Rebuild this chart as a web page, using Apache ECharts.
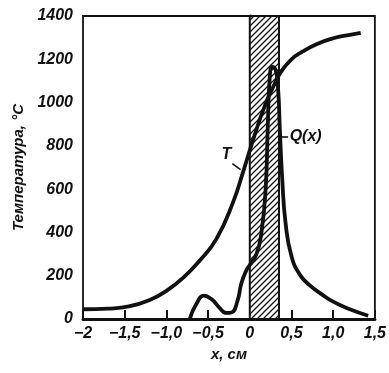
<!DOCTYPE html>
<html>
<head>
<meta charset="utf-8">
<script src="https://cdn.jsdelivr.net/npm/echarts@6/dist/echarts.min.js"></script>
<style>html,body{margin:0;padding:0;background:#fff;}#c{width:389px;height:373px;}</style>
</head>
<body>
<div id="c"></div>
<script>
// ---- data ----
var xTicks = [-2, -1.5, -1.0, -0.5, 0, 0.5, 1.0, 1.5];
var xTickLabels = ['\u22122', '\u22121,5', '\u22121,0', '\u22120,5', '0', '0,5', '1,0', '1,5'];
var yTicks = [0, 200, 400, 600, 800, 1000, 1200, 1400];
var yTickLabels = ['0', '200', '400', '600', '800', '1000', '1200', '1400'];

// Temperature curve T(x)
var tX = [-2, -1.7, -1.45, -1.2, -1.0, -0.8, -0.6, -0.4, -0.2, -0.08, 0.05, 0.18, 0.3, 0.38, 0.5, 0.63, 0.8, 1.0, 1.2, 1.33];
var tY = [45, 48, 58, 88, 130, 190, 270, 370, 540, 680, 840, 985, 1088, 1145, 1200, 1235, 1270, 1297, 1313, 1322];

// Heat source Q(x)
var qX = [-0.72, -0.64, -0.55, -0.46, -0.37, -0.28, -0.22, -0.15, -0.1, -0.04, 0.0, 0.08, 0.14, 0.19, 0.215, 0.24, 0.27, 0.31, 0.34, 0.36, 0.39, 0.43, 0.5, 0.6, 0.72, 0.86, 1.0, 1.2, 1.42];
var qY = [0, 70, 108, 92, 55, 28, 30, 80, 166, 226, 250, 300, 400, 600, 880, 1120, 1165, 1150, 1060, 880, 640, 440, 290, 205, 155, 115, 80, 45, 15];

// Hatched zone
var zoneFrom = 0, zoneTo = 0.35;

// Curve labels
var tLabelPos = [-0.28, 760], tLeader = [[-0.21, 718], [-0.11, 690]];
var qLabelPos = [0.67, 845], qLeader = [[0.38, 842], [0.46, 842]];

// ---- helpers ----
function pairs(xs, ys) { return xs.map(function (x, i) { return [x, ys[i]]; }); }
function lookup(vals, labels, v) {
  for (var i = 0; i < vals.length; i++) if (Math.abs(vals[i] - v) < 1e-6) return labels[i];
  return '';
}
var hatch = document.createElement('canvas');
hatch.width = 6; hatch.height = 6;
(function () {
  var g = hatch.getContext('2d');
  g.fillStyle = '#fff'; g.fillRect(0, 0, 6, 6);
  g.strokeStyle = '#111'; g.lineWidth = 1.3;
  g.beginPath();
  g.moveTo(-1, 7); g.lineTo(7, -1);
  g.moveTo(-4, 4); g.lineTo(4, -4);
  g.moveTo(2, 10); g.lineTo(10, 2);
  g.stroke();
})();

var fontFam = '"Liberation Sans", Arial, sans-serif';
var labelFont = { fontFamily: fontFam, fontStyle: 'italic', fontWeight: 'bold', color: '#111' };

var chart = echarts.init(document.getElementById('c'), null, { renderer: 'canvas' });
chart.setOption({
  animation: false,
  backgroundColor: '#fff',
  grid: { left: 83, right: 12, top: 16, bottom: 54, show: true, borderColor: '#111', borderWidth: 1.8, backgroundColor: 'transparent' },
  xAxis: {
    type: 'value', min: -2, max: 1.5, interval: 0.5,
    name: 'x, см', nameLocation: 'middle', nameGap: 25,
    nameTextStyle: Object.assign({ fontSize: 15 }, labelFont),
    axisLine: { lineStyle: { color: '#111', width: 3 } },
    axisTick: { inside: true, length: 9, lineStyle: { color: '#111', width: 2 } },
    splitLine: { show: false },
    axisLabel: Object.assign({ fontSize: 16, margin: 7, formatter: function (v) { return lookup(xTicks, xTickLabels, v); } }, labelFont)
  },
  yAxis: {
    type: 'value', min: 0, max: 1400, interval: 200,
    name: 'Температура, °С', nameLocation: 'middle', nameGap: 57, nameRotate: 90,
    nameTextStyle: Object.assign({ fontSize: 15 }, labelFont),
    axisLine: { lineStyle: { color: '#111', width: 3 } },
    axisTick: { inside: true, length: 12, lineStyle: { color: '#111', width: 2 } },
    splitLine: { show: false },
    axisLabel: Object.assign({ fontSize: 16, margin: 10, formatter: function (v) { return lookup(yTicks, yTickLabels, v); } }, labelFont)
  },
  series: [
    {
      type: 'line', data: [], z: 1, silent: true,
      markArea: {
        silent: true,
        itemStyle: { color: { image: hatch, repeat: 'repeat' }, borderColor: '#111', borderWidth: 2 },
        data: [[{ xAxis: zoneFrom }, { xAxis: zoneTo }]]
      }
    },
    {
      name: 'T', type: 'line', z: 3, data: pairs(tX, tY), smooth: 0.5,
      showSymbol: false, symbol: 'none',
      lineStyle: { color: '#111', width: 3.8 },
      markPoint: {
        symbol: 'circle', symbolSize: 0,
        label: Object.assign({ show: true, position: 'inside', fontSize: 16, formatter: 'T' }, labelFont),
        data: [{ coord: tLabelPos }]
      },
      markLine: {
        symbol: 'none', silent: true, label: { show: false },
        lineStyle: { color: '#111', width: 1.6, type: 'solid' },
        data: [[{ coord: tLeader[0] }, { coord: tLeader[1] }]]
      }
    },
    {
      name: 'Q(x)', type: 'line', z: 3, data: pairs(qX, qY), smooth: 0.5,
      showSymbol: false, symbol: 'none',
      lineStyle: { color: '#111', width: 3.8 },
      markPoint: {
        symbol: 'circle', symbolSize: 0,
        label: Object.assign({ show: true, position: 'inside', fontSize: 16, formatter: 'Q(x)' }, labelFont),
        data: [{ coord: qLabelPos }]
      },
      markLine: {
        symbol: 'none', silent: true, label: { show: false },
        lineStyle: { color: '#111', width: 1.6, type: 'solid' },
        data: [[{ coord: qLeader[0] }, { coord: qLeader[1] }]]
      }
    }
  ]
});
</script>
</body>
</html>
